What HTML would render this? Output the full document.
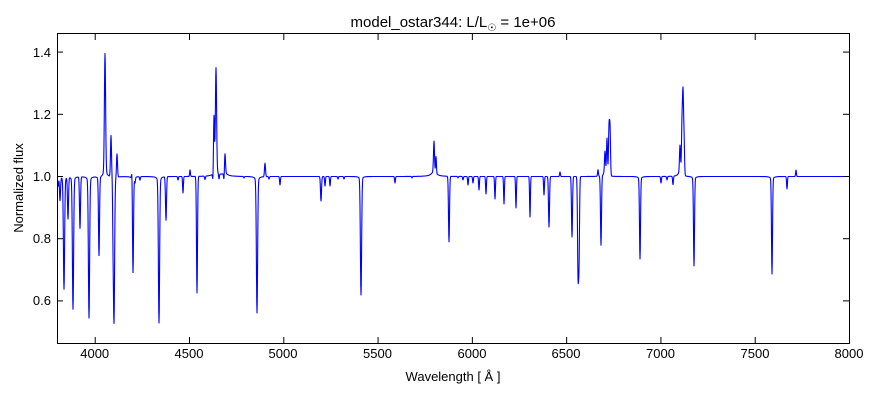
<!DOCTYPE html>
<html><head><meta charset="utf-8"><style>
body{margin:0;background:#fff;}
svg text{font-family:"Liberation Sans","DejaVu Sans",sans-serif;fill:#000;}
</style></head><body>
<svg id="s" width="880" height="400" xmlns="http://www.w3.org/2000/svg">
<rect width="880" height="400" fill="#fff"/>
<defs><clipPath id="c"><rect x="57" y="33" width="792" height="310"/></clipPath></defs>
<path id="sp" clip-path="url(#c)" fill="none" stroke="#0000ff" stroke-width="1.1" stroke-linejoin="round"/>
<rect x="57.5" y="33.5" width="792" height="310" fill="none" stroke="#000" stroke-width="1"/>
<g id="ticks" stroke="#000" stroke-width="1"></g>
<g font-size="13" text-anchor="middle">
<text x="94.7" y="358">4000</text><text x="189" y="358">4500</text><text x="283" y="358">5000</text>
<text x="377.5" y="358">5500</text><text x="472" y="358">6000</text><text x="566" y="358">6500</text>
<text x="660.5" y="358">7000</text><text x="755" y="358">7500</text><text x="849" y="358">8000</text>
</g>
<g font-size="13" text-anchor="end">
<text x="51" y="57">1.4</text><text x="51" y="119">1.2</text><text x="51" y="181">1.0</text>
<text x="51" y="243">0.8</text><text x="51" y="305">0.6</text>
</g>
<text x="453" y="381" font-size="13" text-anchor="middle">Wavelength [ Å ]</text>
<text transform="translate(23,188) rotate(-90)" font-size="13" text-anchor="middle">Normalized flux</text>
<text x="453" y="27" font-size="15" text-anchor="middle">model_ostar344: L/L<tspan font-size="10" dy="4">☉</tspan><tspan dy="-4"> = 1e+06</tspan></text>
</svg>
<script>
var B=176.5;
// [x, yExtreme, coreWidth, wingDepth, wingWidth]
var L=[[58,186,.5],[60,200,.5],[64,284,.6,5,1.5],[68,218,.5],[73,304,.6,5,1.5],[80,228,.5],[89,312,.6,6,1.5],[99,253,.5,3,1.5],
[105,59,.6,-6,2],[111,135,.5],[113,215,.4],[114,317,.6,5,1.5],[117,153,.5],[132,167,.4],[133,270,.5,3,1.5],[135,182,.4],[140,180,.4],
[159,317,.6,6,1.5],[166,220,.5],[178,180,.4],[183,193,.4],[190,170,.4],[197,293,.5],[205,180,.4],[213,185,.4],[214,119,.5],[216,73,.6,-5,3],
[219,182,.4],[224,184,.4],[225,157,.5,-3,3],[244,178,.4],[257,307,.6,6,1.5],[265,163,.5],[269,179,.4],[280,185,.4],
[321,201,.5],[325,186,.4],[330,186,.4],[338,179,.4],[344,179,.4],[361,292,.6,3,1.5],[395,183,.4],[412,178,.4],
[434,146,.5,-5,3],[436,160,.4],[449,242,.5],[458,178,.4],[463,180,.4],[468,185,.4],[473,183,.4],[479,190,.4],[486,194,.4],[495,199,.4],
[504,204,.4],[516,208,.4],[530,217,.4],[544,195,.4],[549,227,.5],[560,172,.4],[572,237,.5],[578,268,.5],[579,258,.5],
[598,170,.4],[601,246,.5],[605,155,.5,-4,2],[607,140,.5],[609,130,.5],[610,130,.5],[640,256,.5,3,1.5],[661,183,.4],[667,180,.4],[673,185,.4],
[680,150,.5,-5,2],[682,127,.5],[683,100,.5],[684,140,.5],[694,263,.5,3,1.5],[772,271,.5,3,1.5],[787,189,.4],[796,170,.4]];
var d="";
for(var x=57;x<=849;x+=0.25){
 var y=B;
 for(var i=0;i<L.length;i++){var f=L[i],dx=x-f[0];var w=f[2];if(Math.abs(dx)<4)y+=(f[1]-B)*Math.exp(-dx*dx/(2*w*w));
  if(f[3]){var ww=f[4];y+=f[3]*ww*ww/(ww*ww+dx*dx);}}
 d+=(d?"L":"M")+x.toFixed(2)+" "+y.toFixed(1);
}
document.getElementById("sp").setAttribute("d",d);
var t="";
for(var w=4000;w<=8000;w+=500){var px=57.5+(w-3800)*792/4200;t+='<line x1="'+px+'" y1="343" x2="'+px+'" y2="337"/><line x1="'+px+'" y1="34" x2="'+px+'" y2="40"/>';}
for(var v=0.6;v<=1.45;v+=0.2){var py=176.5-(v-1)*311;t+='<line x1="57" y1="'+py+'" x2="63" y2="'+py+'"/><line x1="849" y1="'+py+'" x2="843" y2="'+py+'"/>';}
document.getElementById("ticks").innerHTML=t;
</script>
</body></html>
